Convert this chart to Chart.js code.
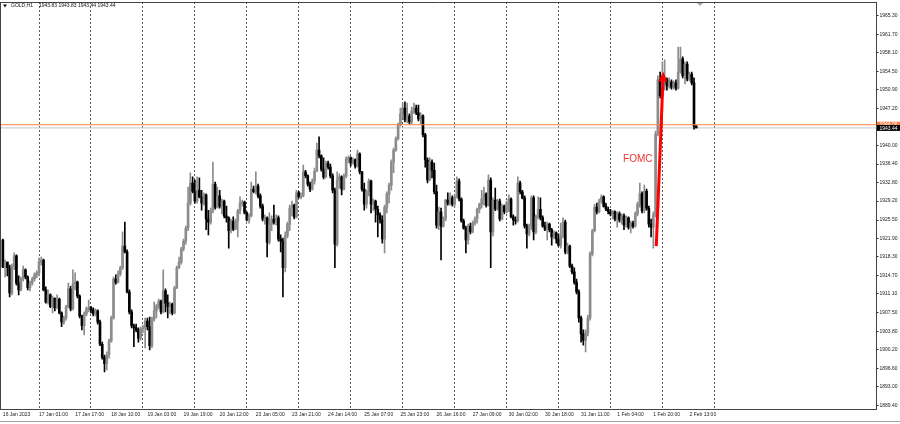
<!DOCTYPE html>
<html>
<head>
<meta charset="utf-8">
<title>GOLD,H1</title>
<script src="https://cdn.jsdelivr.net/npm/chart.js@4.4.0/dist/chart.umd.min.js"></script>
<style>
  html, body { margin: 0; padding: 0; background: #ffffff; }
  #wrap { width: 900px; height: 424px; position: relative; }
</style>
</head>
<body>
<div id="wrap"><canvas id="price-chart" width="900" height="424"></canvas></div>
<script>
// GOLD H1 bars, 16 Jan 2023 -> 2 Feb 2023 (one entry per hourly bar)
const opens = [
  1921.6, 1916.3, 1917.3, 1916.2, 1911.3, 1916.5, 1918.5, 1913.2, 1911.9, 1914.0,
  1915.8, 1914.4, 1912.3, 1913.2, 1914.0, 1914.8, 1915.2, 1917.3, 1917.7, 1911.9,
  1909.5, 1910.9, 1908.6, 1910.3, 1908.4, 1910.1, 1907.4, 1905.6, 1906.4, 1908.6,
  1912.1, 1908.2, 1913.0, 1913.4, 1910.7, 1906.8, 1904.9, 1907.2, 1908.2, 1908.4,
  1908.0, 1907.2, 1907.8, 1905.6, 1901.3, 1898.8, 1897.5, 1899.2, 1901.9, 1906.4,
  1914.0, 1913.4, 1915.0, 1916.2, 1920.4, 1919.3, 1911.5, 1907.6, 1904.9, 1904.5,
  1904.1, 1902.5, 1904.3, 1904.5, 1905.8, 1904.7, 1901.0, 1906.2, 1907.8, 1908.7,
  1909.7, 1907.6, 1911.7, 1909.3, 1908.6, 1909.1, 1907.4, 1912.3, 1916.2, 1917.3,
  1919.9, 1921.4, 1923.9, 1928.8, 1932.7, 1931.1, 1929.2, 1931.3, 1930.0, 1928.8,
  1930.4, 1925.7, 1925.1, 1927.3, 1932.5, 1928.0, 1930.2, 1928.2, 1929.2, 1926.3,
  1925.9, 1923.4, 1925.3, 1923.7, 1925.3, 1927.3, 1928.8, 1929.0, 1926.9, 1925.5,
  1926.3, 1931.5, 1931.0, 1932.1, 1930.2, 1928.2, 1925.7, 1925.9, 1921.2, 1924.7,
  1925.7, 1925.1, 1925.9, 1921.8, 1921.4, 1916.2, 1922.4, 1924.7, 1927.8, 1928.4,
  1926.1, 1930.8, 1930.0, 1930.2, 1934.9, 1934.1, 1932.5, 1931.5, 1933.1, 1935.0,
  1939.1, 1938.0, 1935.4, 1933.9, 1936.6, 1935.8, 1934.1, 1931.3, 1920.8, 1933.3,
  1933.9, 1931.5, 1934.1, 1937.4, 1937.6, 1936.6, 1937.2, 1936.0, 1938.4, 1934.9,
  1931.5, 1928.6, 1931.0, 1933.1, 1928.6, 1929.2, 1927.6, 1926.5, 1925.5, 1921.8,
  1928.0, 1930.6, 1932.3, 1936.8, 1939.1, 1941.3, 1944.0, 1946.2, 1947.3, 1945.0,
  1945.8, 1944.6, 1946.7, 1947.3, 1946.4, 1945.2, 1945.8, 1942.1, 1937.2, 1933.3,
  1936.8, 1935.2, 1931.0, 1924.5, 1927.1, 1924.3, 1925.7, 1929.4, 1928.8, 1929.8,
  1928.6, 1930.0, 1933.1, 1929.6, 1925.3, 1923.9, 1921.6, 1924.3, 1923.2, 1924.9,
  1925.7, 1927.6, 1928.6, 1929.6, 1930.6, 1928.4, 1933.3, 1923.2, 1929.4, 1927.6,
  1929.2, 1925.7, 1928.2, 1927.1, 1928.8, 1929.6, 1926.1, 1925.5, 1925.3, 1932.7,
  1931.0, 1929.8, 1924.3, 1922.8, 1924.3, 1929.8, 1923.2, 1926.1, 1927.6, 1925.9,
  1924.3, 1923.7, 1924.7, 1923.6, 1922.2, 1923.0, 1921.8, 1920.6, 1922.4, 1925.1,
  1919.3, 1920.4, 1916.5, 1915.4, 1913.4, 1911.5, 1906.4, 1903.3, 1902.1, 1903.5,
  1906.4, 1918.9, 1923.4, 1928.0, 1927.1, 1929.2, 1930.0, 1928.2, 1927.6, 1927.1,
  1926.7, 1927.1, 1925.7, 1926.7, 1925.5, 1926.3, 1924.5, 1925.9, 1924.1, 1924.9,
  1924.3, 1926.7, 1928.6, 1930.6, 1927.3, 1931.1, 1927.8, 1924.7, 1924.1, 1926.5,
  1942.3, 1952.8, 1949.7, 1952.0, 1952.8, 1951.6, 1952.4, 1951.4, 1952.2, 1951.2,
  1954.3, 1956.9, 1953.6, 1955.9, 1953.0, 1953.9, 1952.2, 1943.83
];
const highs = [
  1921.8, 1917.7, 1917.3, 1916.7, 1916.9, 1919.1, 1918.7, 1914.6, 1914.4, 1916.5,
  1916.0, 1914.6, 1913.6, 1914.4, 1915.2, 1915.6, 1918.1, 1918.3, 1917.9, 1912.5,
  1911.9, 1911.1, 1910.7, 1910.3, 1910.9, 1910.3, 1907.6, 1906.8, 1908.9, 1913.2,
  1912.6, 1915.8, 1915.2, 1913.6, 1910.9, 1907.0, 1907.6, 1908.6, 1909.9, 1908.7,
  1908.4, 1908.2, 1908.0, 1906.0, 1901.7, 1899.2, 1899.8, 1902.3, 1906.8, 1914.4,
  1914.8, 1915.6, 1916.5, 1923.2, 1925.1, 1919.7, 1911.9, 1908.0, 1905.2, 1905.2,
  1904.5, 1904.7, 1905.0, 1906.4, 1906.4, 1906.6, 1906.6, 1909.5, 1909.1, 1910.1,
  1909.9, 1915.8, 1912.1, 1910.9, 1909.5, 1909.3, 1912.6, 1916.5, 1918.3, 1920.2,
  1921.8, 1924.3, 1931.9, 1934.7, 1933.9, 1933.3, 1933.9, 1933.7, 1931.3, 1930.8,
  1930.6, 1927.4, 1927.8, 1936.8, 1932.9, 1931.9, 1931.3, 1929.6, 1929.4, 1928.2,
  1926.1, 1925.7, 1926.1, 1925.7, 1927.6, 1930.0, 1929.4, 1929.2, 1927.1, 1926.7,
  1932.9, 1932.1, 1934.9, 1932.5, 1930.6, 1928.6, 1926.5, 1926.1, 1926.9, 1926.3,
  1928.4, 1926.5, 1926.3, 1922.6, 1922.0, 1923.2, 1925.1, 1928.4, 1929.2, 1928.6,
  1931.3, 1931.1, 1930.8, 1936.2, 1935.2, 1934.3, 1932.9, 1933.5, 1935.6, 1940.5,
  1941.7, 1938.2, 1937.6, 1937.0, 1937.0, 1936.4, 1934.5, 1931.7, 1934.9, 1934.5,
  1934.1, 1934.5, 1937.8, 1938.0, 1937.8, 1937.6, 1937.4, 1939.1, 1938.6, 1935.0,
  1932.7, 1931.3, 1933.5, 1933.3, 1929.6, 1929.4, 1928.2, 1926.9, 1926.3, 1928.4,
  1931.0, 1932.7, 1937.2, 1939.5, 1941.7, 1944.4, 1947.3, 1948.3, 1948.5, 1948.3,
  1946.2, 1947.5, 1948.3, 1947.9, 1947.9, 1946.4, 1946.0, 1942.4, 1937.6, 1937.6,
  1937.2, 1936.6, 1932.3, 1928.0, 1927.8, 1926.1, 1929.6, 1930.8, 1930.8, 1930.2,
  1930.4, 1933.9, 1933.5, 1929.8, 1925.7, 1924.3, 1924.7, 1924.9, 1925.3, 1926.1,
  1927.8, 1928.8, 1931.3, 1931.9, 1930.8, 1934.3, 1933.7, 1929.8, 1931.7, 1929.6,
  1929.6, 1928.6, 1928.4, 1929.2, 1930.4, 1929.8, 1926.5, 1926.1, 1933.9, 1933.1,
  1931.3, 1930.2, 1924.7, 1924.7, 1930.2, 1930.2, 1926.5, 1930.0, 1929.8, 1926.3,
  1925.1, 1925.1, 1924.9, 1923.9, 1923.4, 1923.2, 1922.8, 1924.9, 1925.9, 1925.5,
  1921.0, 1920.6, 1916.9, 1916.2, 1914.0, 1911.9, 1906.8, 1904.1, 1904.1, 1907.0,
  1919.3, 1923.7, 1928.6, 1928.8, 1929.6, 1930.4, 1930.2, 1928.8, 1928.0, 1927.6,
  1927.4, 1927.3, 1927.1, 1927.1, 1926.7, 1926.7, 1926.3, 1926.1, 1925.3, 1925.3,
  1927.1, 1929.0, 1932.7, 1931.0, 1932.3, 1931.5, 1928.2, 1925.7, 1927.1, 1942.8,
  1953.6, 1954.3, 1956.3, 1956.7, 1953.2, 1953.2, 1952.8, 1952.6, 1952.8, 1959.2,
  1959.2, 1957.3, 1956.3, 1956.3, 1954.3, 1954.3, 1953.2, 1943.83
];
const lows = [
  1916.2, 1914.4, 1914.6, 1910.5, 1910.9, 1915.8, 1912.8, 1910.9, 1911.7, 1913.6,
  1914.0, 1911.9, 1911.7, 1912.8, 1913.6, 1914.2, 1914.6, 1916.7, 1911.7, 1909.3,
  1909.1, 1908.4, 1907.4, 1907.8, 1908.2, 1907.2, 1904.7, 1905.2, 1906.0, 1908.4,
  1907.8, 1908.0, 1911.9, 1910.3, 1906.4, 1904.1, 1903.1, 1906.8, 1907.6, 1907.4,
  1906.8, 1906.8, 1905.2, 1901.0, 1898.4, 1895.9, 1896.3, 1898.6, 1901.7, 1906.2,
  1913.0, 1913.2, 1914.6, 1915.8, 1919.1, 1911.3, 1907.2, 1904.5, 1900.8, 1903.7,
  1901.7, 1902.1, 1903.5, 1900.6, 1904.1, 1900.2, 1900.6, 1905.8, 1906.4, 1908.2,
  1907.2, 1907.4, 1907.6, 1906.4, 1907.2, 1907.0, 1907.2, 1912.1, 1916.0, 1916.9,
  1919.5, 1920.8, 1923.4, 1928.4, 1930.8, 1928.8, 1928.8, 1929.8, 1927.4, 1928.4,
  1923.6, 1922.6, 1924.7, 1926.9, 1927.6, 1927.8, 1927.8, 1926.7, 1925.9, 1925.1,
  1920.0, 1923.0, 1923.4, 1923.6, 1922.2, 1926.7, 1928.2, 1926.7, 1925.3, 1924.9,
  1926.1, 1930.8, 1930.6, 1929.8, 1927.8, 1925.3, 1924.7, 1918.3, 1920.8, 1923.4,
  1924.7, 1924.5, 1921.4, 1919.3, 1910.5, 1915.4, 1922.0, 1923.4, 1926.3, 1925.7,
  1925.9, 1929.8, 1929.6, 1930.0, 1933.7, 1932.1, 1931.0, 1931.3, 1932.5, 1934.9,
  1937.6, 1935.0, 1933.5, 1933.7, 1935.4, 1933.7, 1930.8, 1916.2, 1920.4, 1931.7,
  1930.4, 1931.3, 1933.7, 1936.6, 1936.0, 1936.4, 1935.6, 1935.8, 1934.5, 1931.1,
  1927.4, 1927.8, 1930.2, 1926.9, 1927.3, 1925.1, 1922.2, 1924.9, 1921.0, 1919.1,
  1926.9, 1928.8, 1931.3, 1934.7, 1938.9, 1941.1, 1943.8, 1945.4, 1944.6, 1944.4,
  1944.2, 1944.2, 1946.2, 1946.0, 1944.8, 1944.2, 1941.7, 1935.8, 1932.7, 1933.1,
  1933.7, 1930.6, 1923.9, 1923.6, 1917.7, 1924.1, 1925.3, 1928.4, 1928.4, 1928.2,
  1928.0, 1929.8, 1929.2, 1925.1, 1923.7, 1919.1, 1920.8, 1922.8, 1923.0, 1924.5,
  1924.9, 1926.9, 1927.8, 1928.4, 1928.0, 1928.2, 1916.2, 1922.4, 1927.3, 1927.4,
  1925.3, 1925.5, 1926.7, 1926.9, 1927.1, 1925.9, 1924.5, 1924.7, 1925.1, 1930.6,
  1929.6, 1923.9, 1920.0, 1922.4, 1923.6, 1921.6, 1922.8, 1925.7, 1925.5, 1924.1,
  1923.4, 1921.6, 1923.2, 1920.6, 1921.8, 1921.0, 1920.4, 1920.0, 1922.0, 1918.9,
  1918.9, 1916.2, 1915.0, 1913.0, 1911.1, 1905.6, 1901.7, 1901.1, 1899.8, 1902.9,
  1906.0, 1918.5, 1923.2, 1926.7, 1926.9, 1928.8, 1928.0, 1927.3, 1926.7, 1926.3,
  1925.7, 1925.3, 1924.1, 1925.1, 1924.7, 1923.6, 1924.1, 1923.7, 1923.0, 1923.9,
  1924.1, 1926.3, 1928.0, 1926.9, 1926.9, 1927.4, 1924.1, 1922.2, 1920.0, 1926.1,
  1941.9, 1949.3, 1949.3, 1950.8, 1950.8, 1951.2, 1951.0, 1951.0, 1950.8, 1951.0,
  1954.1, 1953.2, 1952.0, 1952.6, 1952.6, 1951.8, 1943.2, 1943.44
];
const closes = [
  1916.3, 1917.3, 1916.2, 1911.3, 1916.5, 1918.5, 1913.2, 1911.9, 1914.0, 1915.8,
  1914.4, 1912.3, 1913.2, 1914.0, 1914.8, 1915.2, 1917.3, 1917.7, 1911.9, 1909.5,
  1910.9, 1908.6, 1910.3, 1908.4, 1910.1, 1907.4, 1905.6, 1906.4, 1908.6, 1912.1,
  1908.2, 1913.0, 1913.4, 1910.7, 1906.8, 1904.9, 1907.2, 1908.2, 1908.4, 1908.0,
  1907.2, 1907.8, 1905.6, 1901.3, 1898.8, 1897.5, 1899.2, 1901.9, 1906.4, 1914.0,
  1913.4, 1915.0, 1916.2, 1920.4, 1919.3, 1911.5, 1907.6, 1904.9, 1904.5, 1904.1,
  1902.5, 1904.3, 1904.5, 1905.8, 1904.7, 1901.0, 1906.2, 1907.8, 1908.7, 1909.7,
  1907.6, 1911.7, 1909.3, 1908.6, 1909.1, 1907.4, 1912.3, 1916.2, 1917.3, 1919.9,
  1921.4, 1923.9, 1928.8, 1932.7, 1931.1, 1929.2, 1931.3, 1930.0, 1928.8, 1930.4,
  1925.7, 1925.1, 1927.3, 1932.5, 1928.0, 1930.2, 1928.2, 1929.2, 1926.3, 1925.9,
  1923.4, 1925.3, 1923.7, 1925.3, 1927.3, 1928.8, 1929.0, 1926.9, 1925.5, 1926.3,
  1931.5, 1931.0, 1932.1, 1930.2, 1928.2, 1925.7, 1925.9, 1921.2, 1924.7, 1925.7,
  1925.1, 1925.9, 1921.8, 1921.4, 1916.2, 1922.4, 1924.7, 1927.8, 1928.4, 1926.1,
  1930.8, 1930.0, 1930.2, 1934.9, 1934.1, 1932.5, 1931.5, 1933.1, 1935.0, 1939.1,
  1938.0, 1935.4, 1933.9, 1936.6, 1935.8, 1934.1, 1931.3, 1920.8, 1933.3, 1933.9,
  1931.5, 1934.1, 1937.4, 1937.6, 1936.6, 1937.2, 1936.0, 1938.4, 1934.9, 1931.5,
  1928.6, 1931.0, 1933.1, 1928.6, 1929.2, 1927.6, 1926.5, 1925.5, 1921.8, 1928.0,
  1930.6, 1932.3, 1936.8, 1939.1, 1941.3, 1944.0, 1946.2, 1947.3, 1945.0, 1945.8,
  1944.6, 1946.7, 1947.3, 1946.4, 1945.2, 1945.8, 1942.1, 1937.2, 1933.3, 1936.8,
  1935.2, 1931.0, 1924.5, 1927.1, 1924.3, 1925.7, 1929.4, 1928.8, 1929.8, 1928.6,
  1930.0, 1933.1, 1929.6, 1925.3, 1923.9, 1921.6, 1924.3, 1923.2, 1924.9, 1925.7,
  1927.6, 1928.6, 1929.6, 1930.6, 1928.4, 1933.3, 1923.2, 1929.4, 1927.6, 1929.2,
  1925.7, 1928.2, 1927.1, 1928.8, 1929.6, 1926.1, 1925.5, 1925.3, 1932.7, 1931.0,
  1929.8, 1924.3, 1922.8, 1924.3, 1929.8, 1923.2, 1926.1, 1927.6, 1925.9, 1924.3,
  1923.7, 1924.7, 1923.6, 1922.2, 1923.0, 1921.8, 1920.6, 1922.4, 1925.1, 1919.3,
  1920.4, 1916.5, 1915.4, 1913.4, 1911.5, 1906.4, 1903.3, 1902.1, 1903.5, 1906.4,
  1918.9, 1923.4, 1928.0, 1927.1, 1929.2, 1930.0, 1928.2, 1927.6, 1927.1, 1926.7,
  1927.1, 1925.7, 1926.7, 1925.5, 1926.3, 1924.5, 1925.9, 1924.1, 1924.9, 1924.3,
  1926.7, 1928.6, 1930.6, 1927.3, 1931.1, 1927.8, 1924.7, 1924.1, 1926.5, 1942.3,
  1952.8, 1949.7, 1952.0, 1952.8, 1951.6, 1952.4, 1951.4, 1952.2, 1951.2, 1954.3,
  1956.9, 1953.6, 1955.9, 1953.0, 1953.9, 1952.2, 1943.8, 1943.44
];

// time axis: bar index of each label, and of each day separator (01:00 bars)
const timeLabelBars = [0, 16, 32, 48, 64, 80, 96, 112, 128, 144, 160, 176, 192, 208, 224, 240, 256, 272, 288, 304];
const timeLabels = [
  "16 Jan 2023", "17 Jan 01:00", "17 Jan 17:00", "18 Jan 10:00", "19 Jan 03:00",
  "19 Jan 19:00", "20 Jan 12:00", "23 Jan 05:00", "23 Jan 21:00", "24 Jan 14:00",
  "25 Jan 07:00", "25 Jan 23:00", "26 Jan 16:00", "27 Jan 09:00", "30 Jan 02:00",
  "30 Jan 18:00", "31 Jan 11:00", "1 Feb 04:00", "1 Feb 20:00", "2 Feb 13:00"
];
const daySeparatorBars = [16, 39, 62, 85, 108, 131, 154, 177, 200, 223, 246, 269, 292, 315];

// price axis
const priceTickLabels = [
  "1889.40", "1893.00", "1896.60", "1900.20", "1903.80", "1907.50", "1911.10",
  "1914.70", "1918.30", "1921.90", "1925.50", "1929.20", "1932.80", "1936.40",
  "1940.00", "1947.20", "1950.90", "1954.50", "1958.10", "1961.70", "1965.30"
];
const priceMin = 1888.68;
const priceMax = 1967.97;
const barMin = -1.27;
const barMax = 386.8;

// horizontal levels: drawn line and bid line
const levelPrice = 1944.06;
const bidPrice = 1943.44;
const titleText = "GOLD,H1";
const titleValues = "1943.83 1943.83 1943.44 1943.44";

// FOMC annotation (bar index, price)
const arrowFrom = [289.3, 1920.4];
const arrowTo = [292.4, 1954.4];
const fomcLabelAt = [281.1, 1937.4];

const BULL = "#8c8c8c";
const BEAR = "#000000";
const FONT = "\"Liberation Sans\", Arial, sans-serif";

const candleColors = opens.map((o, i) => (closes[i] >= o ? BULL : BEAR));
const xTicks = [...new Set([...timeLabelBars, ...daySeparatorBars])].sort((a, b) => a - b);

const overlay = {
    id: "overlay",
    afterDatasetsDraw(chart) {
        const { ctx, scales: { x, y } } = chart;
        const x0 = x.getPixelForValue(arrowFrom[0]);
        const y0 = y.getPixelForValue(arrowFrom[1]);
        const x1 = x.getPixelForValue(arrowTo[0]);
        const y1 = y.getPixelForValue(arrowTo[1]);
        const len = Math.hypot(x1 - x0, y1 - y0);
        const ux = (x1 - x0) / len, uy = (y1 - y0) / len;
        const head = 10, half = 4.5;
        const bx = x1 - ux * head, by = y1 - uy * head;

        ctx.save();
        ctx.strokeStyle = "#ff0000";
        ctx.fillStyle = "#ff0000";
        ctx.lineWidth = 3;
        ctx.beginPath();
        ctx.moveTo(x0, y0);
        ctx.lineTo(bx, by);
        ctx.stroke();
        ctx.beginPath();
        ctx.moveTo(x1, y1);
        ctx.lineTo(bx - uy * half, by + ux * half);
        ctx.lineTo(bx + uy * half, by - ux * half);
        ctx.closePath();
        ctx.fill();

        ctx.fillStyle = "#f03030";
        ctx.font = "10px " + FONT;
        ctx.textAlign = "center";
        ctx.textBaseline = "middle";
        ctx.fillText("FOMC", x.getPixelForValue(fomcLabelAt[0]), y.getPixelForValue(fomcLabelAt[1]));
        ctx.restore();
    },
    afterDraw(chart) {
        const { ctx, chartArea: area, scales: { y } } = chart;
        ctx.save();

        // frame top/left + window line at the bottom
        ctx.strokeStyle = "#444444";
        ctx.lineWidth = 1;
        ctx.beginPath();
        ctx.moveTo(0, area.top + 0.5);
        ctx.lineTo(area.right, area.top + 0.5);
        ctx.moveTo(0.5, area.top);
        ctx.lineTo(0.5, area.bottom);
        ctx.stroke();
        ctx.strokeStyle = "#a0a0a0";
        ctx.beginPath();
        ctx.moveTo(0, 421.5);
        ctx.lineTo(900, 421.5);
        ctx.stroke();

        // chart shift marker
        ctx.fillStyle = "#a8a8a8";
        ctx.beginPath();
        ctx.moveTo(697, area.top + 1);
        ctx.lineTo(703, area.top + 1);
        ctx.lineTo(700, area.top + 4);
        ctx.closePath();
        ctx.fill();

        // title
        ctx.fillStyle = "#111111";
        ctx.textBaseline = "middle";
        ctx.textAlign = "left";
        ctx.beginPath();
        ctx.moveTo(3, 4.5);
        ctx.lineTo(7, 4.5);
        ctx.lineTo(5, 7.5);
        ctx.closePath();
        ctx.fill();
        ctx.font = "5px " + FONT;
        ctx.fillText(titleText, 11, 6);
        ctx.fillText(titleValues, 39, 6);

        // price tags on the right axis
        const tag = (price, bg, text) => {
            const py = y.getPixelForValue(price);
            ctx.fillStyle = bg;
            ctx.fillRect(area.right + 0.5, py - 3, 900 - area.right, 6);
            ctx.fillStyle = "#ffffff";
            ctx.font = "5px " + FONT;
            ctx.fillText(text, area.right + 3, py + 0.3);
        };
        tag(levelPrice, "#ff7f45", levelPrice.toFixed(2));
        tag(bidPrice, "#000000", bidPrice.toFixed(2));
        ctx.restore();
    }
};

const chart = new Chart(document.getElementById("price-chart"), {
    type: "bar",
    data: {
        datasets: [
            {
                type: "line",
                label: "level",
                data: [{ x: barMin, y: levelPrice }, { x: barMax, y: levelPrice }],
                borderColor: "#ff7f45",
                borderWidth: 1,
                pointRadius: 0,
                order: 0
            },
            {
                type: "line",
                label: "bid",
                data: [{ x: barMin, y: bidPrice }, { x: barMax, y: bidPrice }],
                borderColor: "#c4c4c4",
                borderWidth: 1,
                pointRadius: 0,
                order: 3
            },
            {
                label: "bodies",
                data: opens.map((o, i) => ({ x: i, y: [o, closes[i]] })),
                backgroundColor: candleColors,
                borderWidth: 0,
                borderSkipped: false,
                barThickness: 2,
                minBarLength: 1,
                grouped: false,
                order: 1
            },
            {
                label: "wicks",
                data: highs.map((h, i) => ({ x: i, y: [lows[i], h] })),
                backgroundColor: candleColors,
                borderWidth: 0,
                borderSkipped: false,
                barThickness: 1,
                grouped: false,
                order: 2
            }
        ]
    },
    options: {
        responsive: false,
        animation: false,
        devicePixelRatio: 1,
        events: [],
        layout: { padding: { top: 2, left: 0, right: 0, bottom: 0 } },
        plugins: {
            legend: { display: false },
            tooltip: { enabled: false }
        },
        scales: {
            x: {
                type: "linear",
                min: barMin,
                max: barMax,
                offset: false,
                afterBuildTicks: s => { s.ticks = xTicks.map(v => ({ value: v })); },
                afterFit: s => { s.height = 15; s.paddingLeft = 0; s.paddingRight = 0; },
                grid: {
                    offset: false,
                    drawTicks: false,
                    lineWidth: 1,
                    color: c => (c.tick && daySeparatorBars.includes(c.tick.value) ? "#5a5a5a" : "rgba(0,0,0,0)")
                },
                border: { display: true, color: "#444444", dash: [2, 2] },
                ticks: {
                    autoSkip: false,
                    maxRotation: 0,
                    align: "start",
                    padding: 3,
                    color: "#1a1a1a",
                    font: { size: 5, family: FONT },
                    callback: v => {
                        const k = timeLabelBars.indexOf(v);
                        return k >= 0 ? timeLabels[k] : "";
                    }
                }
            },
            y: {
                type: "linear",
                position: "right",
                min: priceMin,
                max: priceMax,
                afterBuildTicks: s => { s.ticks = priceTickLabels.map(t => ({ value: parseFloat(t) })); },
                afterFit: s => { s.width = 23.5; s.paddingTop = 0; s.paddingBottom = 0; },
                grid: {
                    drawOnChartArea: false,
                    drawTicks: true,
                    tickLength: 2,
                    tickColor: "#333333"
                },
                border: { display: true, color: "#444444" },
                ticks: {
                    autoSkip: false,
                    crossAlign: "near",
                    padding: 1,
                    color: "#1a1a1a",
                    font: { size: 5, family: FONT },
                    callback: (v, i) => priceTickLabels[i]
                }
            }
        }
    },
    plugins: [overlay]
});
</script>
</body>
</html>
